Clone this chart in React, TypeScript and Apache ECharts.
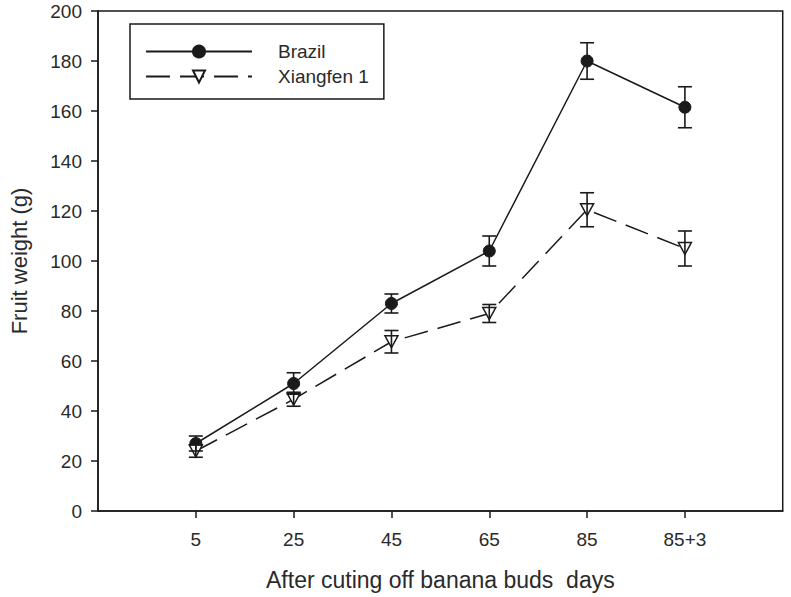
import React, { useEffect, useRef } from "react";
import * as echarts from "echarts";

const categories = ["5", "25", "45", "65", "85", "85+3"];
const brazilMean = [27, 51, 83, 104, 180, 161.5];
const brazilErr = [3, 4.3, 3.8, 6, 7.3, 8.2];
const xiangfenMean = [24, 44.7, 67.7, 79, 120.5, 105];
const xiangfenErr = [2.5, 2.8, 4.5, 3.6, 6.8, 7];
const yTicks = { min: 0, max: 200, interval: 20 };

const FONT = "Liberation Sans, Arial, sans-serif";
const INK = "#1a1a1a";
const TEXT = "#2a2a2a";

const axisCats = [" ", ...categories, "  "];

function pts(mean: number[]) {
  return mean.map((v, i) => [i + 1, v]);
}
function errs(mean: number[], err: number[]) {
  return mean.map((v, i) => [i + 1, v - err[i], v + err[i]]);
}

function errorRender(params: any, api: any) {
  const x = api.value(0);
  const lo = api.coord([x, api.value(1)]);
  const hi = api.coord([x, api.value(2)]);
  const hw = 7;
  const style = { stroke: INK, lineWidth: 1.6, fill: "none" };
  return {
    type: "group",
    children: [
      { type: "line", shape: { x1: lo[0], y1: lo[1], x2: hi[0], y2: hi[1] }, style },
      { type: "line", shape: { x1: hi[0] - hw, y1: hi[1], x2: hi[0] + hw, y2: hi[1] }, style },
      { type: "line", shape: { x1: lo[0] - hw, y1: lo[1], x2: lo[0] + hw, y2: lo[1] }, style },
    ],
  };
}

export default function App() {
  const ref = useRef<HTMLDivElement>(null);
  useEffect(() => {
    if (!ref.current) return;
    const chart = echarts.init(ref.current, undefined, { renderer: "svg" });
    chart.setOption({
      animation: false,
      backgroundColor: "#ffffff",
      textStyle: { fontFamily: FONT },
      grid: {
        left: 92,
        top: 11,
        right: 6,
        bottom: 86,
        show: true,
        borderColor: INK,
        borderWidth: 1.5,
        backgroundColor: "transparent",
      },
      legend: {
        orient: "vertical",
        left: 130,
        top: 24,
        padding: [18, 15, 13, 15],
        itemWidth: 106,
        itemHeight: 15,
        itemGap: 6,
        borderColor: INK,
        borderWidth: 1.5,
        borderRadius: 0,
        backgroundColor: "#fff",
        textStyle: { fontFamily: FONT, fontSize: 19, color: TEXT, padding: [0, 0, 0, 21], lineHeight: 15 },
        data: ["Brazil", "Xiangfen 1"],
      },
      xAxis: {
        type: "category",
        data: axisCats,
        boundaryGap: false,
        name: "After cuting off banana buds  days",
        nameLocation: "middle",
        nameGap: 57,
        nameTextStyle: { fontFamily: FONT, fontSize: 23, color: TEXT },
        axisLine: { show: true, lineStyle: { color: INK, width: 1.5 } },
        axisTick: {
          show: true,
          length: 7,
          inside: false,
          interval: (index: number, value: string) => value.trim() !== "",
          lineStyle: { color: INK, width: 1.5 },
        },
        axisLabel: {
          interval: 0,
          margin: 19,
          fontFamily: FONT,
          fontSize: 19,
          color: TEXT,
        },
        splitLine: { show: false },
      },
      yAxis: {
        type: "value",
        min: yTicks.min,
        max: yTicks.max,
        interval: yTicks.interval,
        name: "Fruit weight (g)",
        nameLocation: "middle",
        nameGap: 68,
        nameTextStyle: { fontFamily: FONT, fontSize: 22, color: TEXT },
        axisLine: { show: true, lineStyle: { color: INK, width: 1.5 } },
        axisTick: { show: true, length: 7, inside: false, lineStyle: { color: INK, width: 1.5 } },
        axisLabel: { margin: 16, fontFamily: FONT, fontSize: 19, color: TEXT },
        splitLine: { show: false },
      },
      series: [
        {
          name: "Brazil",
          type: "line",
          data: pts(brazilMean),
          symbol: "circle",
          symbolSize: 12,
          itemStyle: { color: INK, borderColor: INK, borderWidth: 1 },
          lineStyle: { color: INK, width: 1.5, type: "solid" },
          z: 2,
        },
        {
          name: "Xiangfen 1",
          type: "line",
          data: pts(xiangfenMean),
          symbol: "triangle",
          symbolRotate: 180,
          symbolSize: [13, 12],
          itemStyle: { color: "#ffffff", borderColor: INK, borderWidth: 1.5 },
          lineStyle: { color: INK, width: 1.5, type: [24, 10] },
          z: 2,
        },
        {
          name: "Brazil err",
          type: "custom",
          renderItem: errorRender,
          data: errs(brazilMean, brazilErr),
          encode: { x: 0, y: [1, 2] },
          z: 4,
          silent: true,
        },
        {
          name: "Xiangfen err",
          type: "custom",
          renderItem: errorRender,
          data: errs(xiangfenMean, xiangfenErr),
          encode: { x: 0, y: [1, 2] },
          z: 4,
          silent: true,
        },
      ],
    });
    return () => chart.dispose();
  }, []);
  return (
    <div
      ref={ref}
      style={{ position: "absolute", left: 0, top: 0, width: 791, height: 597, background: "#fff" }}
    />
  );
}
